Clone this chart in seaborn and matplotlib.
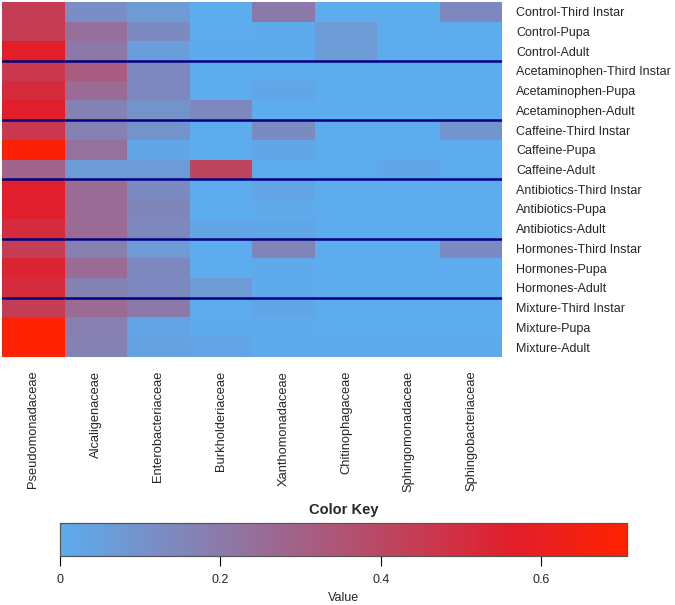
import numpy as np
import pandas as pd
import matplotlib
matplotlib.use("Agg")
import matplotlib.pyplot as plt
from matplotlib.colors import LinearSegmentedColormap
import seaborn as sns

families = ["Pseudomonadaceae", "Alcaligenaceae", "Enterobacteriaceae",
            "Burkholderiaceae", "Xanthomonadaceae", "Chitinophagaceae",
            "Sphingomonadaceae", "Sphingobacteriaceae"]

samples = ["Control-Third Instar", "Control-Pupa", "Control-Adult",
           "Acetaminophen-Third Instar", "Acetaminophen-Pupa", "Acetaminophen-Adult",
           "Caffeine-Third Instar", "Caffeine-Pupa", "Caffeine-Adult",
           "Antibiotics-Third Instar", "Antibiotics-Pupa", "Antibiotics-Adult",
           "Hormones-Third Instar", "Hormones-Pupa", "Hormones-Adult",
           "Mixture-Third Instar", "Mixture-Pupa", "Mixture-Adult"]

# relative abundance per family, one list per column
pseudomonadaceae = [0.44, 0.44, 0.57, 0.46, 0.51, 0.56, 0.46, 0.68, 0.29,
                    0.56, 0.56, 0.51, 0.44, 0.54, 0.51, 0.44, 0.70, 0.70]
alcaligenaceae = [0.12, 0.24, 0.20, 0.32, 0.26, 0.17, 0.17, 0.23, 0.07,
                  0.26, 0.26, 0.26, 0.18, 0.26, 0.17, 0.26, 0.18, 0.17]
enterobacteriaceae = [0.07, 0.13, 0.06, 0.14, 0.14, 0.10, 0.10, 0.02, 0.07,
                      0.13, 0.15, 0.14, 0.07, 0.14, 0.14, 0.20, 0.03, 0.04]
burkholderiaceae = [0.0, 0.0, 0.005, 0.0, 0.0, 0.14, 0.0, 0.0, 0.41,
                    0.0, 0.0, 0.03, 0.0, 0.0, 0.07, 0.0, 0.01, 0.03]
xanthomonadaceae = [0.20, 0.01, 0.01, 0.0, 0.02, 0.0, 0.13, 0.02, 0.0,
                    0.03, 0.01, 0.02, 0.16, 0.01, 0.01, 0.02, 0.01, 0.01]
chitinophagaceae = [0.0, 0.07, 0.07, 0.0, 0.0, 0.0, 0.0, 0.0, 0.0,
                    0.0, 0.0, 0.0, 0.0, 0.0, 0.0, 0.0, 0.0, 0.01]
sphingomonadaceae = [0.0, 0.0, 0.0, 0.0, 0.0, 0.0, 0.0, 0.0, 0.02,
                     0.0, 0.0, 0.0, 0.0, 0.0, 0.0, 0.0, 0.0, 0.01]
sphingobacteriaceae = [0.14, 0.0, 0.0, 0.0, 0.0, 0.0, 0.09, 0.0, 0.0,
                       0.0, 0.0, 0.0, 0.13, 0.0, 0.0, 0.0, 0.0, 0.01]

df = pd.DataFrame({
    families[0]: pseudomonadaceae, families[1]: alcaligenaceae,
    families[2]: enterobacteriaceae, families[3]: burkholderiaceae,
    families[4]: xanthomonadaceae, families[5]: chitinophagaceae,
    families[6]: sphingomonadaceae, families[7]: sphingobacteriaceae,
}, index=samples)

group_size = 3
vmax = 0.707

cmap = LinearSegmentedColormap.from_list(
    "key", [(0.0, "#5CACEE"), (0.8, "#E21E2A"), (1.0, "#FF2200")])

sns.set_style("white")
plt.rcParams["font.family"] = ["Liberation Sans", "DejaVu Sans"]

fig = plt.figure(figsize=(6.75, 6.05), dpi=100)
ax = fig.add_axes([0.003, 0.41, 0.741, 0.587])
cax = fig.add_axes([0.089, 0.081, 0.84, 0.055])

sns.heatmap(df, cmap=cmap, vmin=0, vmax=vmax, ax=ax, cbar_ax=cax,
            cbar_kws={"orientation": "horizontal", "ticks": [0, 0.2, 0.4, 0.6]})

# group separators
for i in range(group_size, len(samples), group_size):
    ax.axhline(i, color="#000080", lw=1.8)

ax.yaxis.tick_right()
ax.set_yticklabels(samples, rotation=0, fontsize=9)
ax.set_xticklabels(families, rotation=90, fontsize=9.3, va="top")
ax.tick_params(axis="y", length=0, pad=10)
ax.tick_params(axis="x", length=0, pad=10)
ax.set_xlabel("")
ax.set_ylabel("")

cax.set_xticklabels(["0", "0.2", "0.4", "0.6"])
cax.tick_params(axis="x", length=7, width=0.8, labelsize=9, pad=6, color="black")
cax.set_title("Color Key", fontsize=10.5, fontweight="bold", pad=6)
cax.set_xlabel("Value", fontsize=9, labelpad=4)
for s in cax.spines.values():
    s.set_visible(True)
    s.set_color("#555555")
    s.set_linewidth(0.8)

fig.savefig("out.png", dpi=100)
